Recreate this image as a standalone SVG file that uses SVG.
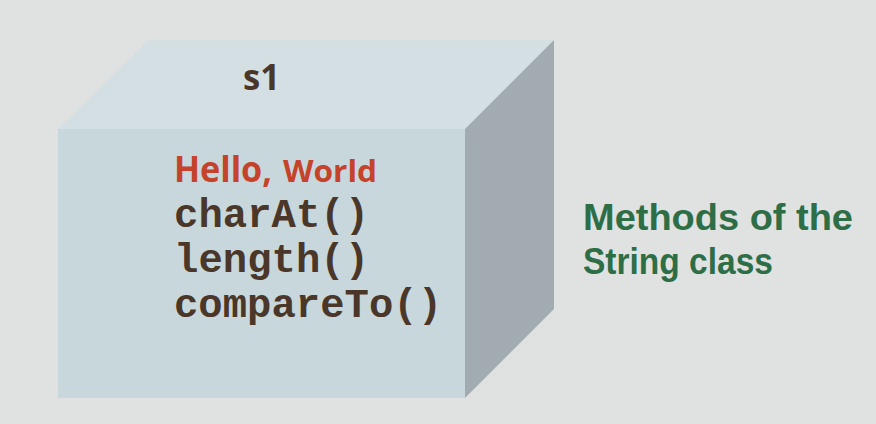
<svg xmlns="http://www.w3.org/2000/svg" width="876" height="424" viewBox="0 0 876 424">
<style>
.sans{font-family:"Open Sans","Liberation Sans",sans-serif;font-weight:bold}
.lab{font-family:"Liberation Sans","Open Sans",sans-serif;font-weight:bold;font-size:36px;fill:#2d6e47}
.mono{font-family:"Liberation Mono","Courier New",monospace;font-weight:bold;font-size:40px;fill:#4a3729}
</style>
<rect width="876" height="424" fill="#e0e2e1"/>
<g id="s1-box">
<polygon points="58,129 148,40 554,40 465,129" fill="#d3dfe3"/>
<polygon points="465,129 554,40 554,309 465,398" fill="#a2acb0"/>
<rect x="58" y="129" width="407" height="269" fill="#c8d7dc"/>
<text class="sans" x="243" y="90" font-size="36" fill="#4a3729" textLength="37" lengthAdjust="spacingAndGlyphs">s1</text>
<text class="sans" x="174" y="182" font-size="35" fill="#c4432a"><tspan textLength="98" lengthAdjust="spacingAndGlyphs">Hello,</tspan><tspan x="283" font-size="31" textLength="94" lengthAdjust="spacingAndGlyphs">World</tspan></text>
<text class="mono" x="174" y="227" textLength="195" lengthAdjust="spacingAndGlyphs">charAt()</text>
<text class="mono" x="174" y="272" textLength="195" lengthAdjust="spacingAndGlyphs">length()</text>
<text class="mono" x="174" y="317" textLength="268" lengthAdjust="spacingAndGlyphs">compareTo()</text>
</g>
<g id="label">
<text class="lab" x="583" y="230" textLength="270" lengthAdjust="spacingAndGlyphs">Methods of the</text>
<text class="lab" x="583" y="274" textLength="190" lengthAdjust="spacingAndGlyphs">String class</text>
</g>
<g id="connectors"/>
</svg>
